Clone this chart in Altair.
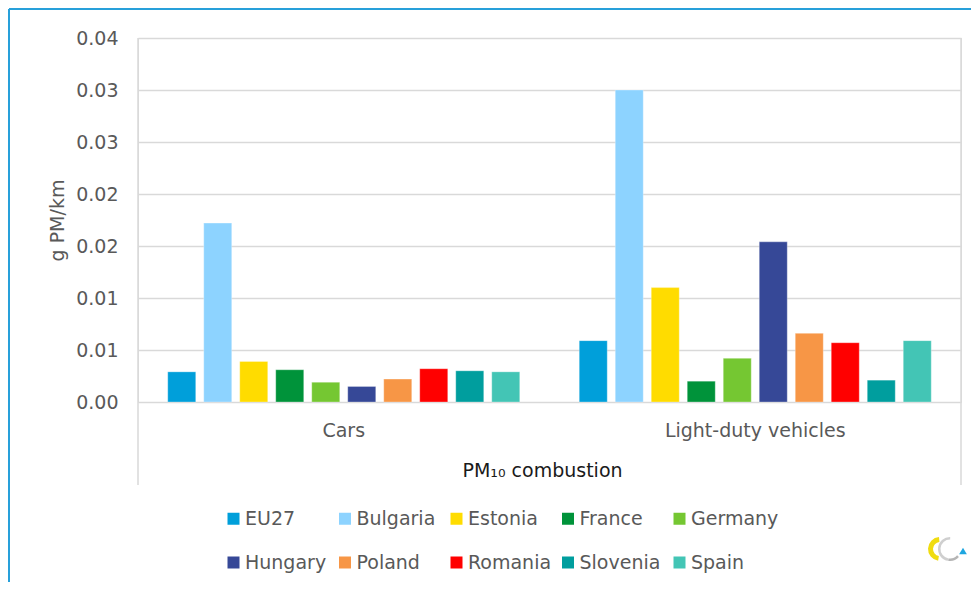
import altair as alt
import pandas as pd

countries = ["EU27", "Bulgaria", "Estonia", "France", "Germany",
             "Hungary", "Poland", "Romania", "Slovenia", "Spain"]
colors = ["#009fda", "#8dd3ff", "#ffdc00", "#00933a", "#75c732",
          "#364897", "#f79646", "#ff0000", "#009e9e", "#43c5b5"]
categories = ["Cars", "Light-duty vehicles"]
cars = [0.0029, 0.0172, 0.0039, 0.0031, 0.0019, 0.0015, 0.0022, 0.0032, 0.0030, 0.0029]
ldv = [0.0059, 0.0300, 0.0110, 0.0020, 0.0042, 0.0154, 0.0066, 0.0057, 0.0021, 0.0059]
tick_values = [0, 0.005, 0.01, 0.015, 0.02, 0.025, 0.03, 0.035]
tick_labels = ["0.00", "0.01", "0.01", "0.02", "0.02", "0.03", "0.03", "0.04"]

rows = []
for cat, vals in zip(categories, [cars, ldv]):
    for c, v in zip(countries, vals):
        rows.append({"category": cat, "country": c, "value": v})
df = pd.DataFrame(rows)

label_expr = "[" + ",".join("'%s'" % t for t in tick_labels) + "][round(datum.value*200)]"

W, H = 823, 364
FONT = "DejaVu Sans"
GREY = "#595959"

bars = alt.Chart(df).mark_bar(stroke="white", strokeWidth=0.6, strokeOpacity=0.5).encode(
    x=alt.X("category:N", sort=categories,
            scale=alt.Scale(paddingInner=0, paddingOuter=0),
            axis=alt.Axis(title="PM₁₀ combustion", labelAngle=0, domain=False, ticks=False,
                          tickSize=0, labelPadding=19, labelFontSize=19, labelColor=GREY,
                          labelFont=FONT, labelLimit=400, titleFont=FONT, titleFontSize=19,
                          titleFontWeight="normal", titleColor="#1a1a1a",
                          titleX=404, titleY=68, titleBaseline="middle", grid=False)),
    xOffset=alt.XOffset("country:N", sort=countries,
                        scale=alt.Scale(paddingInner=0.222, paddingOuter=0.826)),
    y=alt.Y("value:Q", scale=alt.Scale(domain=[0, 0.035], nice=False, zero=True),
            axis=alt.Axis(title="g PM/km", values=tick_values, labelExpr=label_expr,
                          domain=False, ticks=False, tickSize=0, labelPadding=20,
                          labelFontSize=19, labelColor=GREY, labelFont=FONT,
                          grid=True, gridColor="#d9d9d9", gridWidth=1.5,
                          titleFont=FONT, titleFontSize=19, titleFontWeight="normal",
                          titleColor=GREY, titleX=-81, titleY=H / 2,
                          titleBaseline="middle", titleAngle=270)),
    color=alt.Color("country:N", sort=countries,
                    scale=alt.Scale(domain=countries, range=colors),
                    legend=alt.Legend(title=None, orient="none", legendX=86, legendY=471,
                                      columns=5, direction="horizontal",
                                      symbolType="square", symbolSize=144,
                                      symbolStrokeWidth=0, symbolOpacity=1,
                                      labelFontSize=19, labelColor=GREY, labelFont=FONT,
                                      labelOffset=2, columnPadding=2.5, rowPadding=24,
                                      gridAlign="all")),
)

one = pd.DataFrame({"k": [0]})
frame_color = "#d9d9d9"
left_rule = alt.Chart(one).mark_rule(color=frame_color, strokeWidth=1.5).encode(
    x=alt.value(0), y=alt.value(0), y2=alt.value(447))
right_rule = alt.Chart(one).mark_rule(color=frame_color, strokeWidth=1.5).encode(
    x=alt.value(W), y=alt.value(0), y2=alt.value(447))

border = "#28a0da"
border_top = alt.Chart(one).mark_rule(color=border, strokeWidth=2).encode(
    x=alt.value(-129), x2=alt.value(W + 10), y=alt.value(-29))
border_left = alt.Chart(one).mark_rule(color=border, strokeWidth=2).encode(
    x=alt.value(-129), y=alt.value(-29), y2=alt.value(H + 180))

# small logo (decoration)
logo_yellow = alt.Chart(one).mark_arc(
    innerRadius=7, outerRadius=12, theta=3.3, theta2=6.2, color="#f0dc10").encode(
    x=alt.value(802), y=alt.value(511))
logo_grey = alt.Chart(one).mark_arc(
    innerRadius=9.5, outerRadius=12, theta=3.3, theta2=6.3, color="#cfcfcf").encode(
    x=alt.value(812), y=alt.value(511))
logo_grey2 = alt.Chart(one).mark_arc(
    innerRadius=9.5, outerRadius=12, theta=2.3, theta2=3.3, color="#b5b5b5").encode(
    x=alt.value(812), y=alt.value(511))
logo_tri = alt.Chart(one).mark_point(
    shape="triangle-up", filled=True, size=60, color="#1ea6e0", opacity=1).encode(
    x=alt.value(825), y=alt.value(513))

chart = alt.layer(bars, left_rule, right_rule, border_top, border_left,
                  logo_yellow, logo_grey2, logo_grey, logo_tri).properties(
    width=W, height=H,
    autosize=alt.AutoSizeParams(type="none"),
    padding={"left": 130, "top": 30, "right": 10, "bottom": 180},
).configure_view(stroke=None).configure(font=FONT)

chart.save("out.html", embed_options={"renderer": "svg", "actions": False})
